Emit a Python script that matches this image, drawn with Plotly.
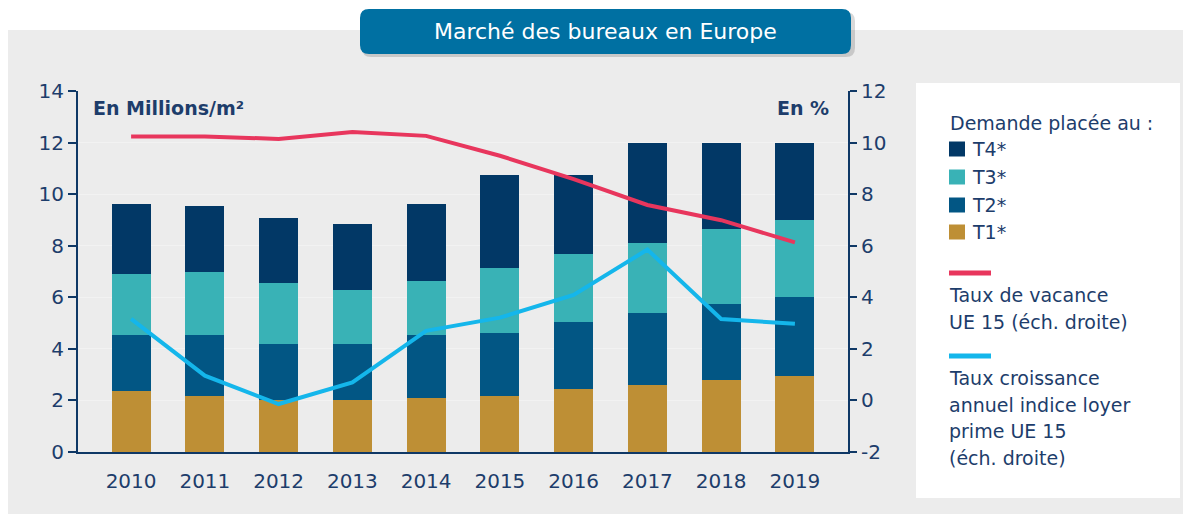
import plotly.graph_objects as go

# Données
annees = ['2010', '2011', '2012', '2013', '2014', '2015', '2016', '2017', '2018', '2019']
t1 = [2.35, 2.18, 2.00, 2.00, 2.09, 2.18, 2.44, 2.61, 2.79, 2.96]
t2 = [2.19, 2.36, 2.19, 2.19, 2.45, 2.44, 2.61, 2.79, 2.96, 3.05]
t3 = [2.36, 2.44, 2.36, 2.09, 2.09, 2.53, 2.63, 2.72, 2.90, 2.99]
t4 = [2.72, 2.55, 2.54, 2.55, 2.99, 3.59, 3.06, 3.85, 3.32, 2.97]
taux_vacance = [10.24, 10.24, 10.14, 10.41, 10.26, 9.49, 8.58, 7.58, 6.99, 6.13]
croissance_loyer = [3.16, 0.96, -0.14, 0.70, 2.70, 3.21, 4.09, 5.85, 3.16, 2.97]
ticks_droite = [-2, 0, 2, 4, 6, 8, 10, 12]
labels_droite = ['-2', '0', '2', '4', '6', '8', '10', '12']

# la page html ajoute une marge de 8px autour de la figure
OFF = 8
W, H = 1191 - OFF, 514 - OFF
L, R, T, B = 78, 848, 91, 452   # zone de tracé, en pixels de l'écran

def px(x):
    return (x - L) / (R - L)

def py(y):
    return (B - y) / (B - T)

navy = '#0f3866'
txt = '#1d3d6b'
police = 'DejaVu Sans'

fig = go.Figure()

# Barres empilées
for nom, vals, col in [('T1*', t1, '#be8f35'), ('T2*', t2, '#025684'),
                       ('T3*', t3, '#39b2b6'), ('T4*', t4, '#023866')]:
    fig.add_trace(go.Bar(x=annees, y=vals, name=nom, marker_color=col,
                         marker_line_width=0, showlegend=False))

# Courbes (échelle droite)
fig.add_trace(go.Scatter(x=annees, y=taux_vacance, yaxis='y2', mode='lines',
                         name='Taux de vacance UE 15',
                         line=dict(color='#e8365d', width=4), showlegend=False))
fig.add_trace(go.Scatter(x=annees, y=croissance_loyer, yaxis='y2', mode='lines',
                         name='Taux croissance annuel indice loyer prime UE 15',
                         line=dict(color='#14b6eb', width=4), showlegend=False))

shapes = []
# fond gris
shapes.append(dict(type='rect', xref='paper', yref='paper', layer='below',
                   x0=px(0), x1=px(1300), y0=py(30), y1=py(600),
                   fillcolor='#ececec', line_width=0))

# boîte du titre (ombre + rectangle arrondi)
def rect_arrondi(x0, y0, x1, y1, r):
    return (f'M {px(x0 + r)},{py(y0)} L {px(x1 - r)},{py(y0)} '
            f'Q {px(x1)},{py(y0)} {px(x1)},{py(y0 + r)} '
            f'L {px(x1)},{py(y1 - r)} Q {px(x1)},{py(y1)} {px(x1 - r)},{py(y1)} '
            f'L {px(x0 + r)},{py(y1)} Q {px(x0)},{py(y1)} {px(x0)},{py(y1 - r)} '
            f'L {px(x0)},{py(y0 + r)} Q {px(x0)},{py(y0)} {px(x0 + r)},{py(y0)} Z')

shapes.append(dict(type='path', xref='paper', yref='paper',
                   path=rect_arrondi(362, 12, 855, 57, 9),
                   fillcolor='rgba(0,0,0,0.15)', line_width=0))
shapes.append(dict(type='path', xref='paper', yref='paper',
                   path=rect_arrondi(360, 9, 851, 54, 9),
                   fillcolor='#0070a2', line_width=0))
# cadre de la légende
shapes.append(dict(type='rect', xref='paper', yref='paper',
                   x0=px(916), x1=px(1180), y0=py(83), y1=py(498),
                   fillcolor='white', line_width=0))

def texte(t, x, y, taille, ancre='left', couleur=txt):
    return dict(text=t, x=px(x), y=py(y), xref='paper', yref='paper',
                xanchor=ancre, yanchor='middle', showarrow=False,
                font=dict(family=police, size=taille, color=couleur))

annotations = [
    texte('Marché des bureaux en Europe', 605, 31, 22, 'center', 'white'),
    texte('<b>En Millions/m²</b>', 91, 108, 19),
    texte('<b>En %</b>', 831, 108, 19, 'right'),
    texte('Demande placée au :', 948, 123, 19),
]

# Légende : carrés
for nom, col, yc in [('T4*', '#023866', 149), ('T3*', '#39b2b6', 177),
                     ('T2*', '#025684', 205), ('T1*', '#be8f35', 232)]:
    shapes.append(dict(type='rect', xref='paper', yref='paper',
                       x0=px(949), x1=px(965), y0=py(yc - 7.5), y1=py(yc + 7.5),
                       fillcolor=col, line_width=0))
    annotations.append(texte(nom, 970, yc, 19))

# Légende : lignes
for col, yl, lignes in [('#e8365d', 273, ['Taux de vacance', 'UE 15 (éch. droite)']),
                        ('#14b6eb', 356, ['Taux croissance', 'annuel indice loyer',
                                          'prime UE 15', '(éch. droite)'])]:
    shapes.append(dict(type='line', xref='paper', yref='paper',
                       x0=px(949), x1=px(991), y0=py(yl), y1=py(yl),
                       line=dict(color=col, width=5)))
    for i, ligne in enumerate(lignes):
        annotations.append(texte(ligne, 947, yl + 22 + 26.7 * i, 19))

fig.update_layout(
    width=W, height=H,
    margin=dict(l=L - OFF, r=W - (R - OFF), t=T - OFF, b=H - (B - OFF)),
    paper_bgcolor='white', plot_bgcolor='rgba(0,0,0,0)',
    barmode='stack', bargap=0.47,
    font=dict(family=police, size=18, color=txt),
    xaxis=dict(range=[-0.72, 9.72], showline=True, linecolor=navy, linewidth=2,
               ticks='', showgrid=False, ticklabelstandoff=10,
               tickfont=dict(size=20, color=txt)),
    yaxis=dict(range=[0, 14], dtick=2, showline=True, linecolor=navy, linewidth=2,
               ticks='outside', ticklen=8, tickwidth=2, tickcolor=navy,
               showgrid=True, gridcolor='rgba(255,255,255,0.35)', zeroline=False,
               tickfont=dict(size=20, color=txt)),
    yaxis2=dict(range=[-2, 12], tickvals=ticks_droite, ticktext=labels_droite,
                overlaying='y', side='right', showline=True,
                linecolor=navy, linewidth=2, ticks='outside', ticklen=7, tickwidth=2,
                tickcolor=navy, showgrid=False, zeroline=False,
                tickfont=dict(size=20, color=txt)),
    shapes=shapes,
    annotations=annotations,
)

fig.write_html('out.html')
